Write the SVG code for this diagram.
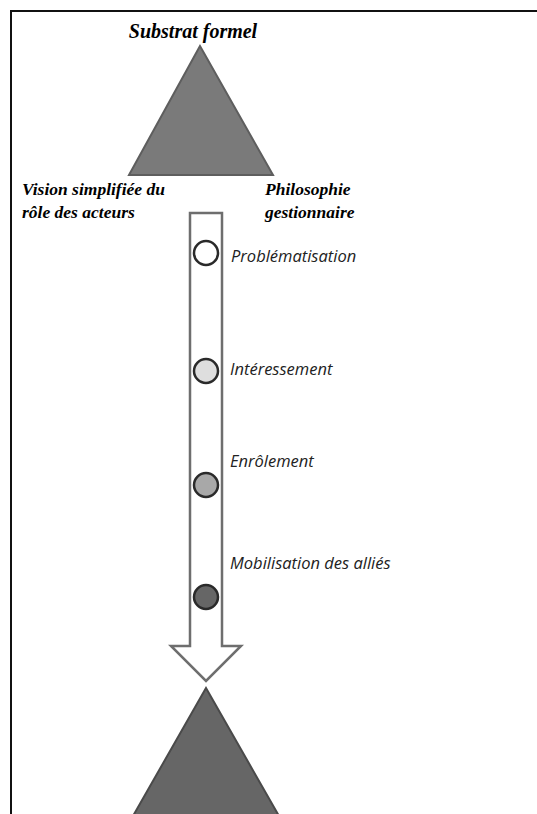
<svg xmlns="http://www.w3.org/2000/svg" width="537" height="814" viewBox="0 0 537 814">
<style>
.title{font-family:"Liberation Serif","Times New Roman",serif;font-style:italic;font-weight:bold;fill:#000}
.step{font-family:"Open Sans","Liberation Sans",sans-serif;font-style:italic;font-size:16.5px;fill:#222}
.dot{stroke:#2a2a2a;stroke-width:2.5}
</style>
<rect width="537" height="814" fill="#fff"/>
<path d="M11,814 V11 H537" fill="none" stroke="#111" stroke-width="2"/>
<g id="top-triangle">
<polygon points="200,46 129,175 273,175" fill="#7a7a7a" stroke="#5e5e5e" stroke-width="2"/>
<text class="title" x="193" y="38" font-size="20" text-anchor="middle">Substrat formel</text>
<text class="title" x="22" y="195" font-size="17.5">Vision simplifiée du</text>
<text class="title" x="22" y="218" font-size="17.5">rôle des acteurs</text>
<text class="title" x="265" y="195" font-size="17.5">Philosophie</text>
<text class="title" x="265" y="218" font-size="17.5">gestionnaire</text>
</g>
<g id="connectors">
<polygon points="190,213 222,213 222,646 241,646 206,681 171,646 190,646" fill="#fff" stroke="#6e6e6e" stroke-width="2.5"/>
</g>
<g id="step1"><circle class="dot" cx="206" cy="253" r="12" fill="#fff"/><text class="step" x="231" y="262">Problématisation</text></g>
<g id="step2"><circle class="dot" cx="206" cy="371" r="12" fill="#dedede"/><text class="step" x="230" y="375">Intéressement</text></g>
<g id="step3"><circle class="dot" cx="206" cy="485" r="12" fill="#a8a8a8"/><text class="step" x="230" y="467">Enrôlement</text></g>
<g id="step4"><circle class="dot" cx="206" cy="597" r="12" fill="#666"/><text class="step" x="230" y="569">Mobilisation des alliés</text></g>
<g id="bottom-triangle">
<polygon points="206,688 133,816 279,816" fill="#666" stroke="#4a4a4a" stroke-width="2"/>
</g>
</svg>
